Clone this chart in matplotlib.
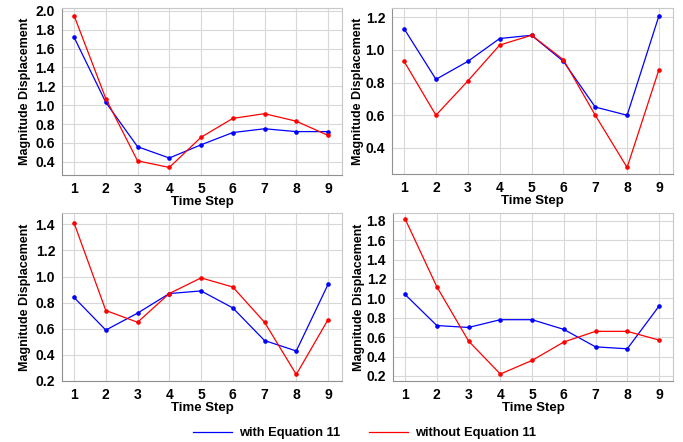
import numpy as np
import matplotlib.pyplot as plt
from matplotlib.lines import Line2D

plt.rcParams['font.family'] = ['Liberation Sans', 'DejaVu Sans']
plt.rcParams['font.weight'] = 'bold'

steps = [1, 2, 3, 4, 5, 6, 7, 8, 9]

# panel data: with / without Equation 11
with_eq_a = [1.72, 1.03, 0.56, 0.44, 0.58, 0.71, 0.75, 0.72, 0.72]
without_eq_a = [1.95, 1.07, 0.41, 0.34, 0.66, 0.86, 0.91, 0.83, 0.68]

with_eq_b = [1.13, 0.82, 0.93, 1.07, 1.09, 0.93, 0.65, 0.60, 1.21]
without_eq_b = [0.93, 0.60, 0.81, 1.03, 1.09, 0.94, 0.60, 0.28, 0.88]

with_eq_c = [0.84, 0.59, 0.72, 0.87, 0.89, 0.76, 0.51, 0.43, 0.94]
without_eq_c = [1.41, 0.74, 0.65, 0.87, 0.99, 0.92, 0.65, 0.25, 0.67]

with_eq_d = [1.04, 0.72, 0.70, 0.78, 0.78, 0.68, 0.50, 0.48, 0.92]
without_eq_d = [1.82, 1.12, 0.56, 0.22, 0.36, 0.55, 0.66, 0.66, 0.57]

# axes boxes in pixel coords (left, top, right, bottom), y limits, y ticks, ylabel pad
W, H = 683, 442
panels = [
    (with_eq_a, without_eq_a, (62, 8, 342, 175), (0.26, 2.03), np.arange(0.4, 2.01, 0.2), 3),
    (with_eq_b, without_eq_b, (392, 8, 673, 174), (0.24, 1.257), np.arange(0.4, 1.21, 0.2), 1),
    (with_eq_c, without_eq_c, (62, 213, 342, 381), (0.2, 1.487), np.arange(0.2, 1.41, 0.2), 3),
    (with_eq_d, without_eq_d, (393, 213, 673, 381), (0.148, 1.88), np.arange(0.2, 1.81, 0.2), 1),
]

fig = plt.figure(figsize=(W / 100, H / 100), dpi=100)

for blue, red, box, ylim, yticks, ypad in panels:
    l, t, r, b = box
    ax = fig.add_axes([l / W, 1 - b / H, (r - l) / W, (b - t) / H])
    ax.plot(steps, blue, color='#0000ff', lw=0.9, marker='o', ms=2.3)
    ax.plot(steps, red, color='#ff0000', lw=0.9, marker='o', ms=2.3)
    ax.set_xlim(0.62, 9.44)
    ax.set_ylim(*ylim)
    ax.set_xticks(steps)
    ax.set_yticks(yticks)
    ax.set_yticklabels(['%.1f' % v for v in yticks])
    ax.grid(True, color='#d8d8d8', lw=0.8)
    ax.set_axisbelow(True)
    ax.tick_params(length=0, labelsize=10, pad=5)
    for s in ['top', 'right']:
        ax.spines[s].set_color('#c8c8c8')
    for s in ['left', 'bottom']:
        ax.spines[s].set_color('#909090')
    ax.set_xlabel('Time Step', fontsize=9.5, fontweight='bold', labelpad=0)
    ax.set_ylabel('Magnitude Displacement', fontsize=9, fontweight='bold', labelpad=ypad)

handles = [Line2D([], [], color='#0000ff', lw=0.9),
           Line2D([], [], color='#ff0000', lw=0.9)]
fig.legend(handles, ['with Equation 11', 'without Equation 11'],
           loc='center', bbox_to_anchor=(364.5 / W, 1 - 433 / H), ncol=2, frameon=False,
           handlelength=3.0, columnspacing=2.3, handletextpad=0.5,
           prop={'weight': 'bold', 'size': 9.3})

fig.savefig('out.png', dpi=100)
